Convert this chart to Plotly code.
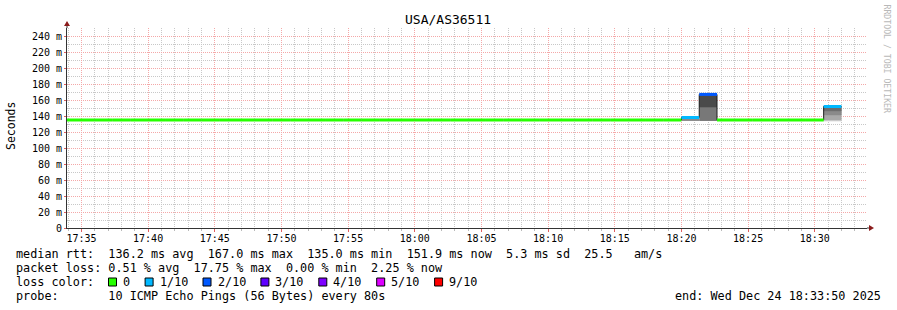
import plotly.graph_objects as go
from datetime import datetime, timedelta

# ---------------- data ----------------
chart_title = "USA/AS36511"
y_axis_title = "Seconds"
sample_start = "2025-12-24 17:33:20"   # start of first 80 s sample
step_seconds = 80

# median RTT per 80 s sample (ms)
median_ms = [
    135.0, 135.0, 135.0, 135.0, 135.0, 135.0, 135.0, 135.0, 135.0, 135.0,
    135.0, 135.0, 135.0, 135.0, 135.0, 135.0, 135.0, 135.0, 135.0, 135.0,
    135.0, 135.0, 135.0, 135.0, 135.0, 135.0, 135.0, 135.0, 135.0, 135.0,
    135.0, 135.0, 135.0, 135.0, 135.0, 138.1, 167.0, 135.0, 135.0, 135.0,
    135.0, 135.0, 135.0, 151.9,
]
# lost pings (out of 10) per sample
loss_count = [
    0, 0, 0, 0, 0, 0, 0, 0, 0, 0,
    0, 0, 0, 0, 0, 0, 0, 0, 0, 0,
    0, 0, 0, 0, 0, 0, 0, 0, 0, 0,
    0, 0, 0, 0, 0, 1, 2, 0, 0, 0,
    0, 0, 0, 1,
]
# smoke (ping spread) bands: sample index, low, high, depth (outer -> inner)
smoke_index = [35, 36, 36, 43, 43, 43, 43]
smoke_low = [133.8, 133.8, 150.9, 133.4, 135.0, 141.0, 146.0]
smoke_high = [137.2, 166.0, 166.0, 152.0, 152.0, 152.0, 152.0]
smoke_depth = [2, 3, 5, 0, 1, 2, 4]

y_tick_values = [0, 20, 40, 60, 80, 100, 120, 140, 160, 180, 200, 220, 240]
y_tick_labels = ["0", "20 m", "40 m", "60 m", "80 m", "100 m", "120 m", "140 m",
                 "160 m", "180 m", "200 m", "220 m", "240 m"]

loss_labels = ["0", "1/10", "2/10", "3/10", "4/10", "5/10", "9/10"]
loss_levels = [0, 1, 2, 3, 4, 5, 9]

rtt_stats = {"avg": "136.2", "max": "167.0", "min": "135.0", "now": "151.9", "sd": "5.3", "ams": "25.5"}
loss_stats = {"avg": "0.51", "max": "17.75", "min": "0.00", "now": "2.25"}
probe_text = "10 ICMP Echo Pings (56 Bytes) every 80s"
end_text = "Wed Dec 24 18:33:50 2025"

# ---------------- style ----------------
W, H = 897, 310
L, R, T, B = 67, 30, 28, 82
MONO = "DejaVu Sans Mono"
loss_palette = ["#26ff00", "#00b8ff", "#0059ff", "#5e00ff", "#7e00ff", "#dd00ff", "#ff0000"]
loss_color = dict(zip(loss_levels, loss_palette))
smoke_palette = ["#cacaca", "#a9a9a9", "#8a8a8a", "#787878", "#6d6d6d", "#4a4a4a"]
major_grid = "#f4a8a8"
minor_grid = "#c8c8c8"
axis_color = "#333333"
arrow_color = "#8b1c1c"


def px(x):
    return (x - L) / (W - L - R)


def py(y):
    return (H - B - y) / (H - T - B)


def sp(s):
    return s.replace(" ", "\u00a0")


t0 = datetime.strptime(sample_start, "%Y-%m-%d %H:%M:%S")
n = len(median_ms)
starts = [t0 + timedelta(seconds=step_seconds * k) for k in range(n)]
ends = [s + timedelta(seconds=step_seconds) for s in starts]
mids = [s + timedelta(seconds=step_seconds / 2) for s in starts]

fig = go.Figure()

# smoke
fig.add_trace(go.Bar(
    x=[mids[i] for i in smoke_index],
    y=[h - l for l, h in zip(smoke_low, smoke_high)],
    base=smoke_low,
    width=step_seconds * 1000,
    marker=dict(color=[smoke_palette[d] for d in smoke_depth], line=dict(width=0)),
    hoverinfo="skip", showlegend=False,
))

# dark underlying step line (shows the vertical transitions)
fig.add_trace(go.Scatter(
    x=starts + [ends[-1]], y=median_ms + [median_ms[-1]],
    mode="lines", line=dict(shape="hv", color="#202020", width=1),
    hoverinfo="skip", showlegend=False,
))

# coloured median segments by loss
for lvl in sorted(set(loss_count)):
    xs, ys = [], []
    for k in range(n):
        if loss_count[k] == lvl:
            xs += [starts[k], ends[k], None]
            ys += [median_ms[k], median_ms[k], None]
    fig.add_trace(go.Scatter(
        x=xs, y=ys, mode="lines",
        line=dict(color=loss_color[lvl], width=3),
        hoverinfo="skip", showlegend=False,
    ))

fig.update_layout(
    width=W, height=H, autosize=False,
    margin=dict(l=L, r=R, t=T, b=B, pad=0),
    paper_bgcolor="white", plot_bgcolor="white",
    barmode="overlay", showlegend=False,
    font=dict(family=MONO, size=10, color="#000000"),
    xaxis=dict(
        type="date",
        range=["2025-12-24 17:33:55", "2025-12-24 18:33:55"],
        tick0="2025-12-24 17:35:00", dtick=300000, tickformat="%H:%M",
        showgrid=True, gridcolor=major_grid, gridwidth=1, griddash="1px,1px",
        ticks="outside", ticklen=3, tickcolor="#e06060", tickwidth=1,
        ticklabelstandoff=-2,
        minor=dict(dtick=60000, tick0="2025-12-24 17:35:00", showgrid=True,
                   gridcolor=minor_grid, gridwidth=1, griddash="1px,1px",
                   ticks="outside", ticklen=2, tickcolor="#bbbbbb"),
        showline=True, linecolor=axis_color, linewidth=1,
        zeroline=False, fixedrange=True,
        tickfont=dict(family=MONO, size=10, color="#000000"),
    ),
    yaxis=dict(
        range=[0, 250],
        tickvals=y_tick_values, ticktext=y_tick_labels,
        showgrid=True, gridcolor=major_grid, gridwidth=1, griddash="1px,1px",
        ticks="outside", ticklen=2, tickcolor="#e06060",
        minor=dict(dtick=10, tick0=0, showgrid=True, gridcolor=minor_grid,
                   gridwidth=1, griddash="1px,1px"),
        showline=True, linecolor=axis_color, linewidth=1,
        zeroline=False, fixedrange=True,
        tickfont=dict(family=MONO, size=10, color="#000000"),
    ),
)

ann = []
ann.append(dict(text=chart_title, x=px(448), y=py(20), xref="paper", yref="paper",
                xanchor="center", yanchor="middle", showarrow=False,
                font=dict(family=MONO, size=13, color="#000000")))
ann.append(dict(text=y_axis_title, x=px(11), y=py(126), xref="paper", yref="paper",
                xanchor="center", yanchor="middle", showarrow=False, textangle=-90,
                font=dict(family=MONO, size=11.5, color="#000000")))
ann.append(dict(text="RRDTOOL / TOBI OETIKER", x=px(886), y=py(58.5), xref="paper", yref="paper",
                xanchor="center", yanchor="middle", showarrow=False, textangle=90,
                font=dict(family=MONO, size=8.2, color="#b8b8b8")))

FS = 11.8
XL = 14  # left text origin (annotation box adds ~2px padding)
line1 = ("median rtt:  {avg} ms avg  {max} ms max  {min} ms min  {now} ms now  {sd} ms sd  {ams}   am/s"
         .format(**rtt_stats))
line2 = "packet loss: {avg} % avg  {max} % max  {min} % min  {now} % now".format(**loss_stats)
line4 = "probe:       " + probe_text
for txt, yy in [(line1, 253.6), (line2, 267.6), ("loss color:", 281.6), (line4, 295.6)]:
    ann.append(dict(text=sp(txt), x=px(XL), y=py(yy), xref="paper", yref="paper",
                    xanchor="left", yanchor="middle", showarrow=False,
                    font=dict(family=MONO, size=FS, color="#000000")))
ann.append(dict(text=sp("end: " + end_text), x=px(883), y=py(295.6), xref="paper", yref="paper",
                xanchor="right", yanchor="middle", showarrow=False,
                font=dict(family=MONO, size=FS, color="#000000")))

shapes = []
cw = 7.1
bx = 108
for lab, lvl in zip(loss_labels, loss_levels):
    shapes.append(dict(type="rect", xref="paper", yref="paper",
                       x0=px(bx + 0.5), x1=px(bx + 8.5), y0=py(278), y1=py(286),
                       fillcolor=loss_color[lvl], line=dict(color="#000000", width=1)))
    tx = bx + 15
    ann.append(dict(text=lab, x=px(tx - 2), y=py(281.6), xref="paper", yref="paper",
                    xanchor="left", yanchor="middle", showarrow=False,
                    font=dict(family=MONO, size=FS, color="#000000")))
    bx = tx + len(lab) * cw + 14.5

# axis extensions and arrows
shapes.append(dict(type="line", xref="paper", yref="paper", x0=px(867), x1=px(870),
                   y0=py(228), y1=py(228), line=dict(color=axis_color, width=1)))
shapes.append(dict(type="path", xref="paper", yref="paper",
                   path="M {a},{b} L {c},{d} L {a},{e} Z".format(
                       a=px(869), b=py(225), c=px(874), d=py(228), e=py(231)),
                   fillcolor=arrow_color, line=dict(width=0)))
shapes.append(dict(type="line", xref="paper", yref="paper", x0=px(67), x1=px(67),
                   y0=py(28), y1=py(25), line=dict(color=axis_color, width=1)))
shapes.append(dict(type="path", xref="paper", yref="paper",
                   path="M {a},{b} L {c},{d} L {e},{b} Z".format(
                       a=px(64), b=py(26), c=px(67), d=py(21), e=px(70)),
                   fillcolor=arrow_color, line=dict(width=0)))

fig.update_layout(annotations=ann, shapes=shapes)
fig.write_html("out.html")
